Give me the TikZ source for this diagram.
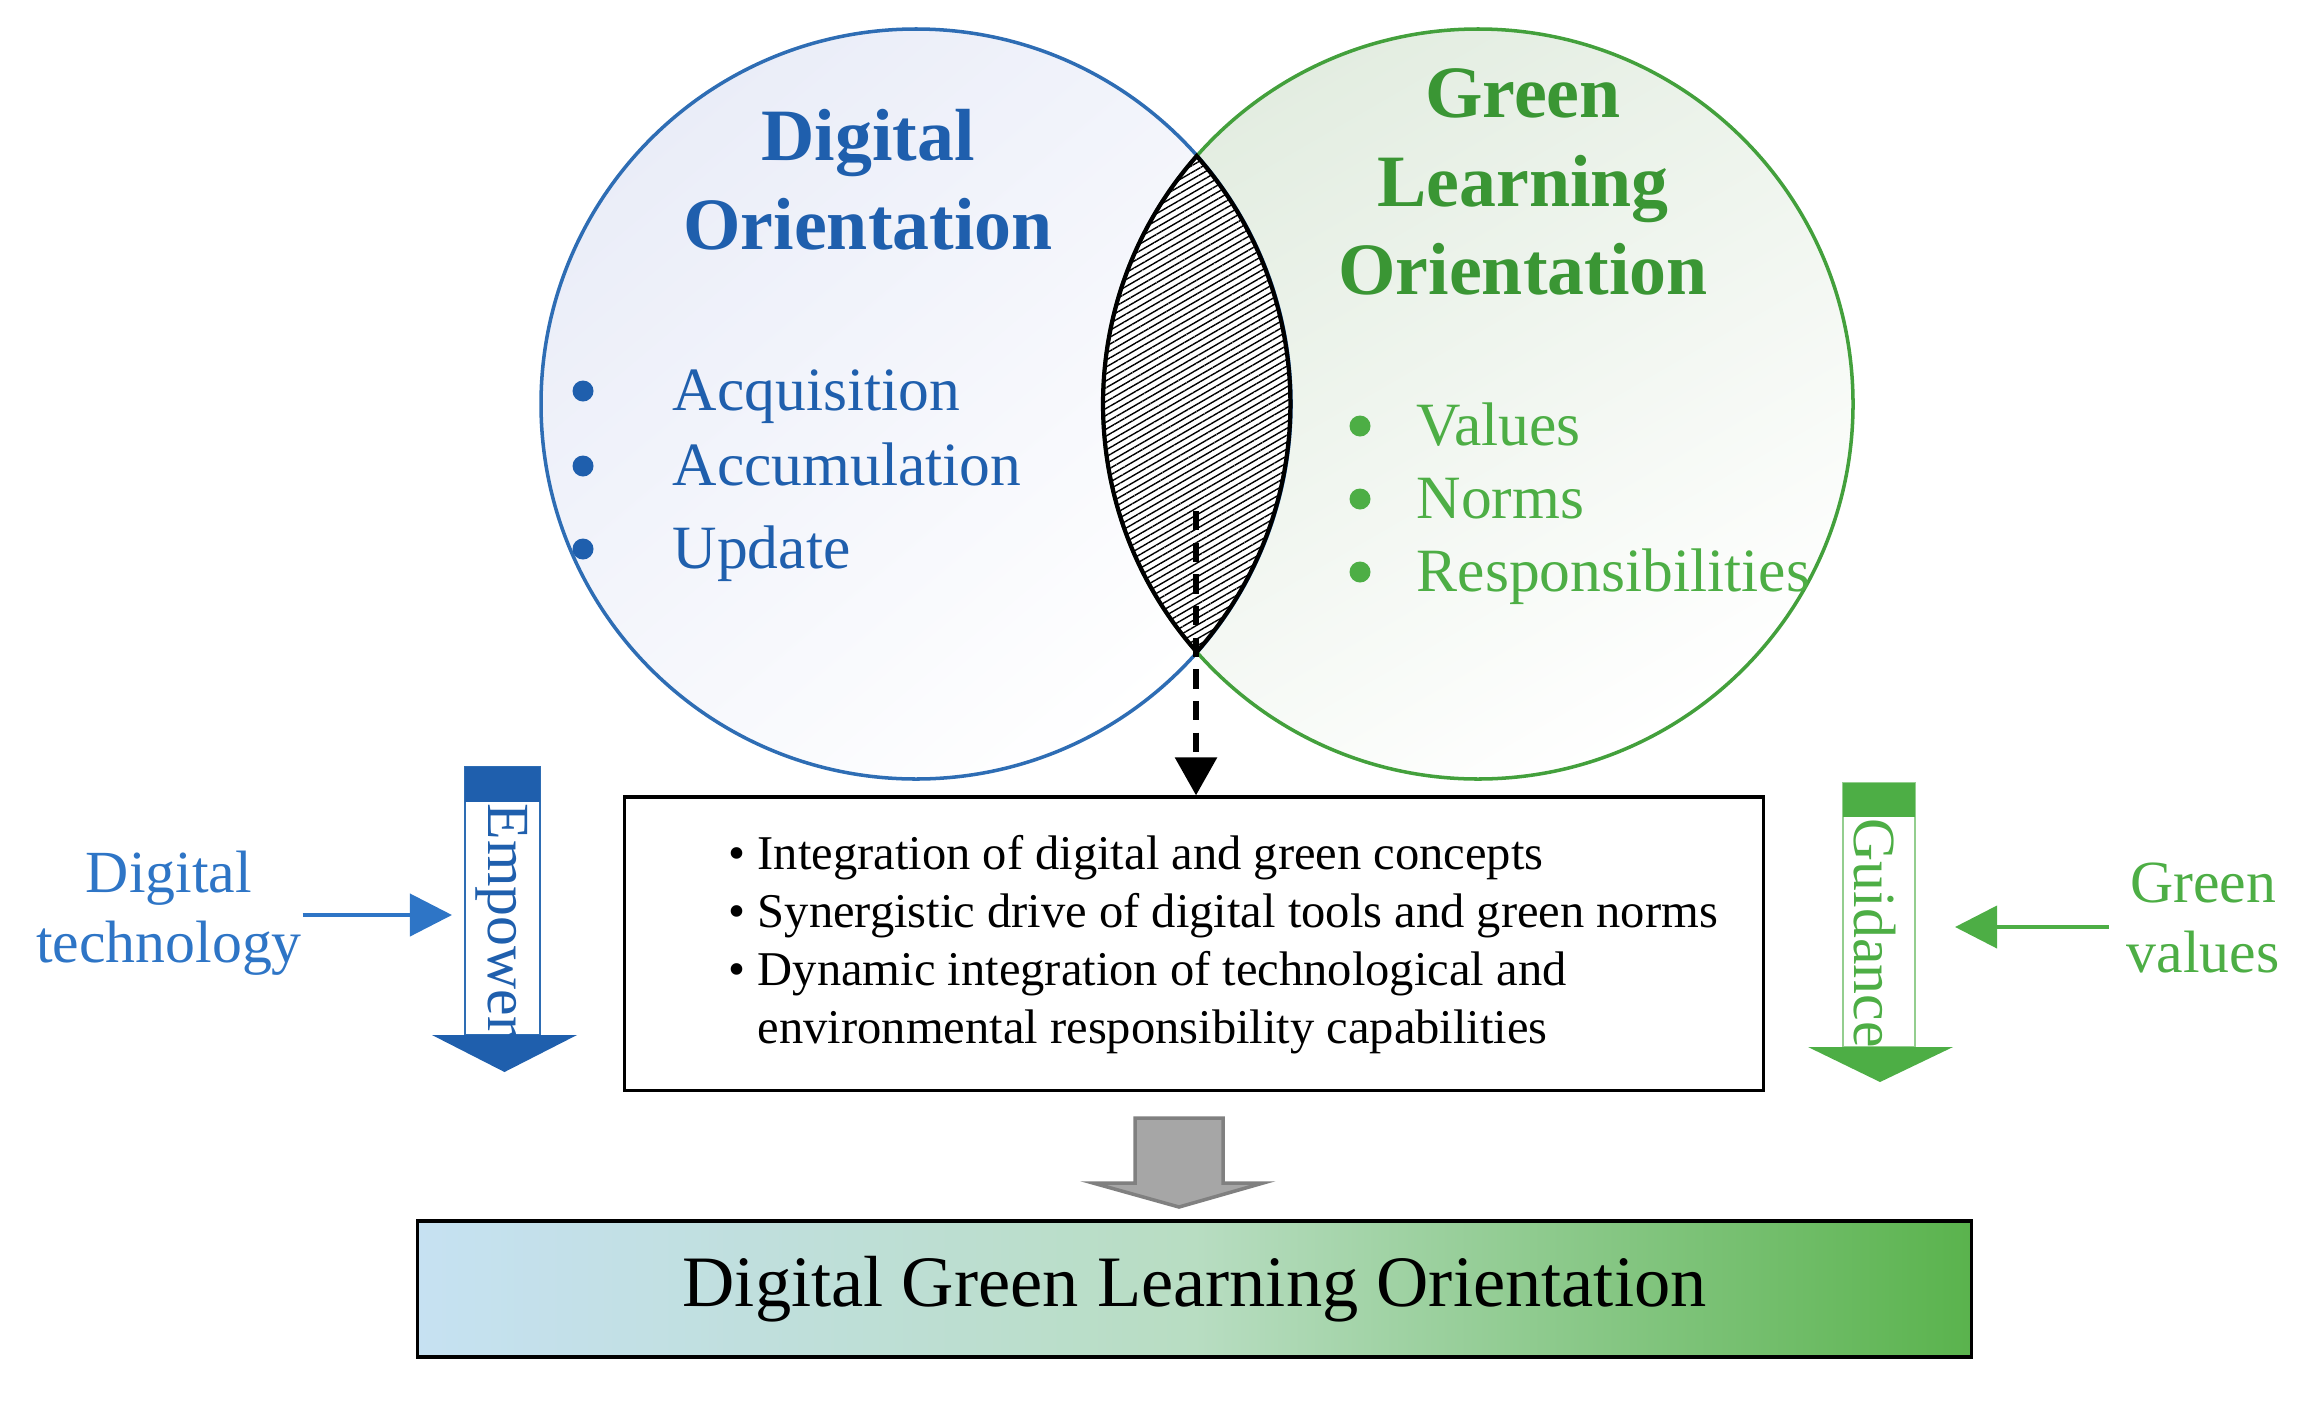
\documentclass[tikz,border=0pt]{standalone}
\usepackage{fontspec}
\setmainfont{Liberation Serif}
\usetikzlibrary{arrows.meta,patterns.meta,calc}

\definecolor{dblue}{HTML}{1F5FAD}
\definecolor{lblue}{HTML}{2E75C6}
\definecolor{cblue}{HTML}{2E6DB4}
\definecolor{dgreen}{HTML}{3A9634}
\definecolor{lgreen}{HTML}{4DAE45}
\definecolor{cgreen}{HTML}{43A03C}
\definecolor{bfill}{HTML}{EAEDF8}
\definecolor{gfill}{HTML}{E3EDE1}
\definecolor{boxleft}{HTML}{C6E1F2}
\definecolor{boxmid}{HTML}{B8DDC2}
\definecolor{boxright}{HTML}{5AB34D}
\definecolor{arrgray}{HTML}{A6A6A6}
\definecolor{arrgrayd}{HTML}{808080}

\begin{document}
\begin{tikzpicture}
		[x=0.01cm,y=0.01cm,every node/.style={inner sep=0pt},
		circtitle/.style={align=center,font=\fontsize{21}{25.2}\selectfont\bfseries},
		itemtext/.style={font=\fontsize{17.5}{21}\selectfont},
		sidelabel/.style={align=center,font=\fontsize{17}{20}\selectfont},
		sidearrow/.style={line width=1.15pt,-{Triangle[length=12pt,width=12pt]}},
		dasharrow/.style={line width=1.6pt,dash pattern=on 5.5pt off 3.5pt,-{Triangle[length=10.8pt,width=11.7pt]}},
		lensline/.style={line width=1.2pt,black}]
		\useasboundingbox (0,0) rectangle (2301,-1406);
		% the two circles
		\shade[top color=bfill,bottom color=white,shading angle=40] (916,-404) circle (375);
		\shade[top color=gfill,bottom color=white,shading angle=30] (1478,-404) circle (375);
		\begin{scope}
			\clip (916,-404) circle (375);
			\fill[white] (1478,-404) circle (375);
			\fill[pattern={Lines[angle=30,distance=1.7pt,line width=0.4pt]}] (1478,-404) circle (375);
		\end{scope}
		\draw[cblue,line width=1pt] (916,-404) circle (375);
		\draw[cgreen,line width=1pt] (1478,-404) circle (375);
		\draw[lensline] (1196.7,-156) arc[start angle=138.6,end angle=221.4,radius=375]
			arc[start angle=-41.4,end angle=41.4,radius=375] -- cycle;
		\node[circtitle,dblue] (dotitle) at (868,-180) {Digital\\Orientation};
		\node[circtitle,dgreen] (glotitle) at (1523,-182) {Green\\Learning\\Orientation};
		\foreach \t/\y [count=\i] in {Acquisition/410,Accumulation/485,Update/568}
		{
			\fill[dblue] (583,-\y+19) circle (10.5);
			\node[itemtext,dblue,anchor=base west] (ditem\i) at (672,-\y) {\t};
		}
		\foreach \t/\y [count=\i] in {Values/445,Norms/518,Responsibilities/591}
		{
			\fill[lgreen] (1360,-\y+19) circle (10.5);
			\node[itemtext,lgreen,anchor=base west] (gitem\i) at (1416,-\y) {\t};
		}
		% middle box
		\node[draw,line width=0.9pt,minimum width=11.38cm,minimum height=2.93cm] (mid) at (1194,-943.5) {};
		\node[align=left,anchor=west,font=\fontsize{13.8}{16.5}\selectfont] (midtxt) at (728,-945)
			{\textbullet\ Integration of digital and green concepts\\
			\textbullet\ Synergistic drive of digital tools and green norms\\
			\textbullet\ Dynamic integration of technological and\\
			\phantom{\textbullet\ }environmental responsibility capabilities};
		\coordinate (dstart) at (1196,-511);
		\draw[dasharrow] (dstart) -- (dstart |- mid.north);
		% empower arrow
		\fill[white] (465,-767) rectangle (540,-1035);
		\draw[cblue,line width=0.5pt] (465,-767) rectangle (540,-1035);
		\fill[dblue] (465,-767) rectangle (540,-802);
		\fill[dblue] (432,-1035) -- (577,-1035) -- (504.5,-1072) -- cycle;
		\node[rotate=-90,dblue,font=\fontsize{17}{20}\selectfont] (empower) at (502,-920) {Empower};
		% guidance arrow
		\fill[white] (1843,-783) rectangle (1915,-1047);
		\draw[lgreen!60,line width=0.5pt] (1843,-783) rectangle (1915,-1047);
		\fill[lgreen] (1843,-783) rectangle (1915,-817);
		\fill[lgreen] (1808,-1047) -- (1953,-1047) -- (1880,-1082) -- cycle;
		\node[rotate=-90,lgreen,font=\fontsize{17}{20}\selectfont] (guidance) at (1875,-933) {Guidance};
		% side labels
		\node[sidelabel,lblue] (dtech) at (169,-913) {Digital\\technology};
		\node[sidelabel,lgreen] (gval) at (2203,-918) {Green\\values};
		\coordinate (empin) at (452,-915);
		\coordinate (guidin) at (1955,-927);
		\draw[sidearrow,lblue] (dtech.east |- empin) -- (empin);
		\draw[sidearrow,lgreen] ([xshift=-0.17cm]gval.west |- guidin) -- (guidin);
		% result
		\node[draw,line width=1pt,minimum width=15.53cm,minimum height=1.36cm,
			left color=boxleft,right color=boxright,middle color=boxmid,
			font=\fontsize{20.6}{24}\selectfont] (dglo) at (1194.5,-1289) {Digital Green Learning Orientation};
		\fill[arrgray,draw=arrgrayd,line width=1pt] (1135,-1118) -- (1223,-1118) -- (1223,-1183) -- (1263,-1183)
			-- (1179,-1207) -- (1093,-1183) -- (1135,-1183) -- cycle;
\end{tikzpicture}
\end{document}
